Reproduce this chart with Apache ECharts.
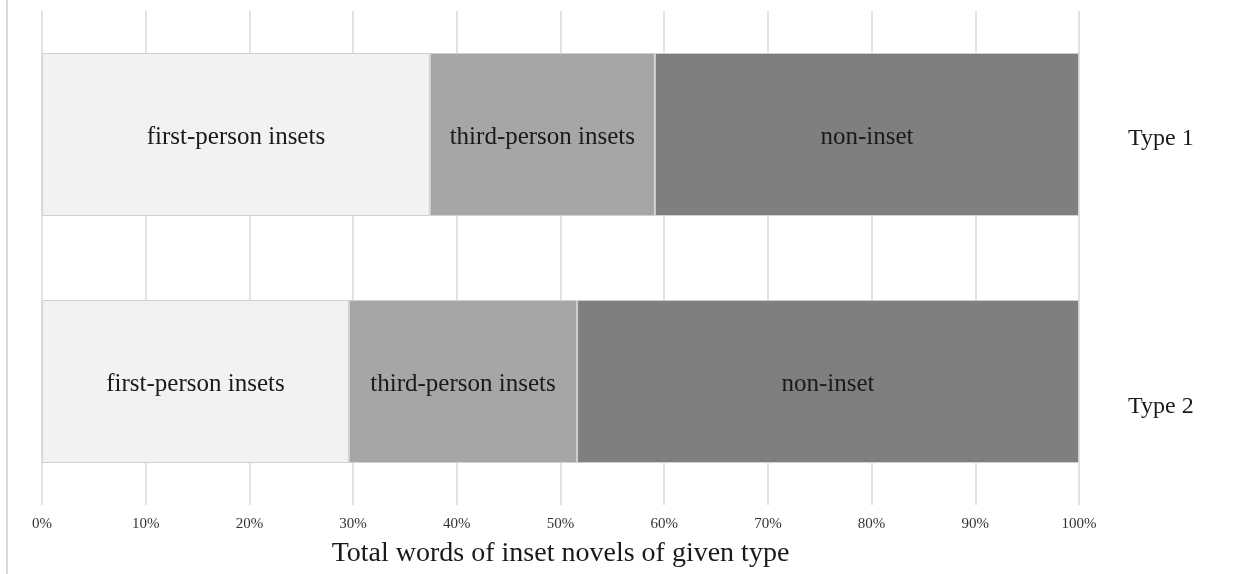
<!DOCTYPE html>
<html>
<head>
<meta charset="utf-8">
<script src="https://cdn.jsdelivr.net/npm/echarts@6/dist/echarts.min.js"></script>
<style>
  html, body { margin: 0; padding: 0; background: #fff; }
  #chart { width: 1251px; height: 574px; }
</style>
</head>
<body>
<div id="chart"></div>
<script>
// categories, top to bottom
const types = ['Type 1', 'Type 2'];
// share of total words (%)
const firstPerson = [37.4, 29.6];
const thirdPerson = [21.7, 22.0];
const nonInset = [40.9, 48.4];
const segmentNames = ['first-person insets', 'third-person insets', 'non-inset'];
const segmentColors = ['#f2f2f2', '#a6a6a6', '#7f7f7f'];

const serif = '"Liberation Serif", "DejaVu Serif", serif';

let chart = echarts.init(document.getElementById('chart'));

function makeSeries(name, data, color) {
    return {
        name: name,
        type: 'bar',
        stack: 'total',
        barWidth: '66%',
        data: data,
        itemStyle: {color: color, borderColor: '#d0d0d0', borderWidth: 1},
        label: {
            show: true,
            position: 'inside',
            offset: [0, 3],
            formatter: name,
            color: '#1a1a1a',
            fontFamily: serif,
            fontSize: 25
        },
        emphasis: {disabled: true}
    };
}

let option = {
    animation: false,
    grid: {left: 42, right: 172, top: 11, bottom: 69, containLabel: false},
    xAxis: {
        type: 'value',
        min: 0,
        max: 100,
        interval: 10,
        name: 'Total words of inset novels of given type',
        nameLocation: 'middle',
        nameGap: 35,
        nameTextStyle: {fontFamily: serif, fontSize: 28, color: '#1a1a1a'},
        axisLine: {show: false},
        axisTick: {show: false},
        axisLabel: {
            formatter: '{value}%',
            fontFamily: serif,
            fontSize: 15,
            color: '#333',
            margin: 12
        },
        splitLine: {lineStyle: {color: '#d9d9d9', width: 1.5}}
    },
    yAxis: {
        type: 'category',
        data: types,
        inverse: true,
        position: 'right',
        axisLine: {show: false},
        axisTick: {show: false},
        axisLabel: {
            margin: 49,
            align: 'left',
            formatter: function (v, i) {
                return i === 0 ? '{a|' + v + '}' : '{b|' + v + '}';
            },
            rich: {
                a: {fontFamily: serif, fontSize: 24, color: '#1a1a1a', padding: [8, 0, 0, 0]},
                b: {fontFamily: serif, fontSize: 24, color: '#1a1a1a', padding: [50, 0, 0, 0]}
            }
        }
    },
    graphic: [{
        type: 'line',
        shape: {x1: 7, y1: 0, x2: 7, y2: 574},
        style: {stroke: '#d9d9d9', lineWidth: 2}
    }],
    series: [
        makeSeries(segmentNames[0], firstPerson, segmentColors[0]),
        makeSeries(segmentNames[1], thirdPerson, segmentColors[1]),
        makeSeries(segmentNames[2], nonInset, segmentColors[2])
    ]
};

chart.setOption(option);
</script>
</body>
</html>
